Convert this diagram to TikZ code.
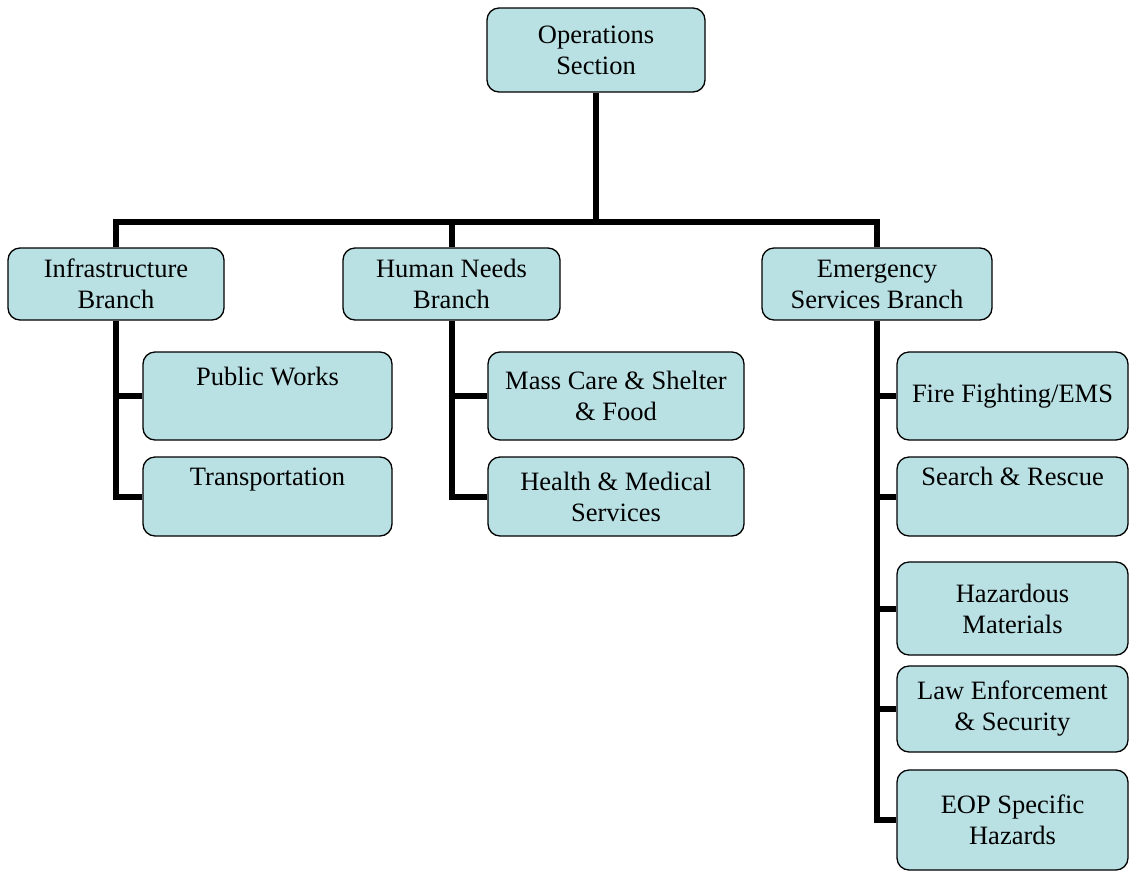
\documentclass[tikz,border=0pt]{standalone}
\usepackage{fontspec}
\setmainfont{Liberation Serif}
\definecolor{boxfill}{RGB}{185,224,227}

\begin{document}
\begin{tikzpicture}[x=1pt, y=-1pt,
    box/.style={draw, fill=boxfill, rounded corners=12pt, line width=1.3pt,
        align=center, inner sep=0pt, font=\fontsize{26.5}{31}\selectfont},
    conn/.style={line width=6pt}]

    \useasboundingbox (0,0) rectangle (1130,871);

    %% Top of the chart
    \node[box, minimum width=218pt, minimum height=84pt] (ops) at (596,50) {Operations\\Section};
    \coordinate (bar) at (597,222);

    %% Branches
    \node[box, minimum width=216pt, minimum height=72pt] (infra) at (116,284) {Infrastructure\\Branch};
    \node[box, minimum width=217pt, minimum height=72pt] (human) at (451.5,284) {Human Needs\\Branch};
    \node[box, minimum width=230pt, minimum height=72pt] (emerg) at (877,284) {Emergency\\Services Branch};

    % Infrastructure units
    \node[box, minimum width=249pt, minimum height=88pt] (works) at (267.5,396) {Public Works\\\strut};
    \node[box, minimum width=249pt, minimum height=79pt] (transp) at (267.5,496.5) {Transportation\\\strut};

    % Human needs units
    \node[box, minimum width=256pt, minimum height=88pt] (mass) at (616,396) {Mass Care \& Shelter\\\& Food};
    \node[box, minimum width=256pt, minimum height=79pt] (health) at (616,496.5) {Health \& Medical\\Services};

    % Emergency services units
    \node[box, minimum width=231pt, minimum height=88pt] (fire) at (1012.5,396) {Fire Fighting/EMS};
    \node[box, minimum width=231pt, minimum height=79pt] (search) at (1012.5,496.5) {Search \& Rescue\\\strut};
    \node[box, minimum width=231pt, minimum height=93pt] (hazmat) at (1012.5,608.5) {Hazardous\\Materials};
    \node[box, minimum width=231pt, minimum height=86pt] (law) at (1012.5,709) {Law Enforcement\\\& Security};
    \node[box, minimum width=231pt, minimum height=100pt] (eop) at (1012.5,820) {EOP Specific\\Hazards};

    %% Connectors
    \draw[conn] (ops.south) -- (ops.south |- bar);
    \draw[conn] (infra.north) |- (emerg.north |- bar) -- (emerg.north);
    \draw[conn] (human.north) -- (human.north |- bar);

    % Infrastructure
    \draw[conn] (infra.south) |- (transp.west);
    \draw[conn] (infra.south |- works.west) -- (works.west);

    % Human needs
    \draw[conn] (human.south) |- (health.west);
    \draw[conn] (human.south |- mass.west) -- (mass.west);

    % Emergency services
    \draw[conn] (emerg.south) |- (eop.west);
    \foreach \unit in {fire, search, hazmat, law}
        \draw[conn] (emerg.south |- \unit.west) -- (\unit.west);

\end{tikzpicture}
\end{document}
